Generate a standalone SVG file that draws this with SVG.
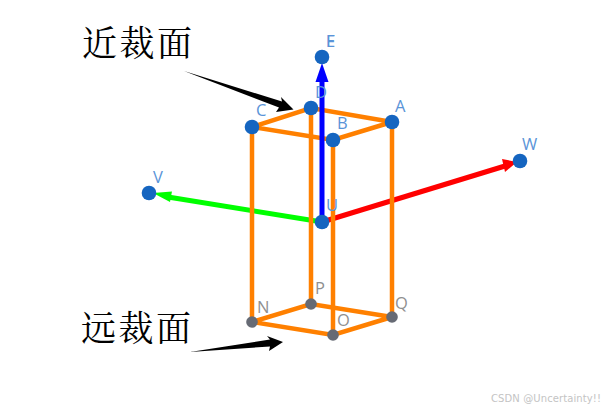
<svg xmlns="http://www.w3.org/2000/svg" width="605" height="409" viewBox="0 0 605 409">
<style>
.edge{stroke:#ff8000;stroke-width:4.500;fill:none}
.axis{stroke-width:5;fill:none}
.pt{fill:#1565c0}
.gp{fill:#666a74}
.lb{font-family:"Open Sans","Liberation Sans",sans-serif;font-size:16.500px;fill:#5a94d8}
.lg{font-family:"Open Sans","Liberation Sans",sans-serif;font-size:16.500px;fill:#8f8f8f}
.cap{font-family:"Noto Serif CJK SC","Noto Sans CJK SC",serif;font-size:35px;letter-spacing:2.500px;fill:#000}
</style>
<rect width="605" height="409" fill="#fff"/>
<g id="connectors">
<path class="axis" stroke="#00ff00" d="M322 222L168 197"/>
<polygon fill="#00ff00" points="153,193 172,191.500 170,202"/>
<path class="axis" stroke="#ff0000" d="M322 222L505 166"/>
<polygon fill="#ff0000" points="517,162 502,159 505,172"/>
<path class="edge" d="M252 127L311 108L392 122L333 140Z"/>
<path class="edge" d="M252 322L311 304L392 317L333 335Z"/>
<path class="edge" d="M252 127V322M311 108V304M392 122V317M333 140V335"/>
<path class="axis" stroke="#0000ff" d="M322 222V78"/>
<polygon fill="#0000ff" points="322,63 328.500,82 315.500,82"/>
<path fill="#000" d="M184 71L282 101.500L281 97L293.500 109.500L276 112L279 107.500Z"/>
<path fill="#000" d="M190 352L270 339.500L267 336L283 342L269 351L270 346.500Z"/>
</g>
<g id="node-E"><circle class="pt" cx="322" cy="57" r="7.300"/><text class="lb" x="326" y="47">E</text></g>
<g id="node-F"><text class="lb" x="326" y="47">F</text></g>
<g id="node-D"><circle class="pt" cx="311" cy="108" r="7.300"/><text class="lb" x="315" y="98">D</text></g>
<g id="node-A"><circle class="pt" cx="392" cy="122" r="7.300"/><text class="lb" x="395" y="112">A</text></g>
<g id="node-B"><circle class="pt" cx="333" cy="140" r="7.300"/><text class="lb" x="337" y="129">B</text></g>
<g id="node-C"><circle class="pt" cx="252" cy="127" r="7.300"/><text class="lb" x="256" y="116">C</text></g>
<g id="node-U"><circle class="pt" cx="322" cy="222" r="7.300"/><text class="lb" x="326" y="211">U</text></g>
<g id="node-V"><circle class="pt" cx="149" cy="193" r="7.300"/><text class="lb" x="153" y="183">V</text></g>
<g id="node-W"><circle class="pt" cx="520" cy="161" r="7.300"/><text class="lb" x="522" y="150">W</text></g>
<g id="node-N"><circle class="gp" cx="252" cy="322" r="5.800"/><text class="lg" x="257" y="313">N</text></g>
<g id="node-P"><circle class="gp" cx="311" cy="304" r="5.800"/><text class="lg" x="315" y="294">P</text></g>
<g id="node-Q"><circle class="gp" cx="392" cy="317" r="5.800"/><text class="lg" x="395" y="309">Q</text></g>
<g id="node-O"><circle class="gp" cx="333" cy="335" r="5.800"/><text class="lg" x="337" y="326">O</text></g>
<g id="label-near"><text class="cap" x="82" y="56">近裁面</text></g>
<g id="label-far"><text class="cap" x="81" y="341">远裁面</text></g>
<g id="watermark"><text x="491" y="402" style="font-family:'DejaVu Sans',sans-serif;font-size:10px;letter-spacing:0.100px;fill:#c4c4c4">CSDN @Uncertainty!!</text></g>
</svg>
